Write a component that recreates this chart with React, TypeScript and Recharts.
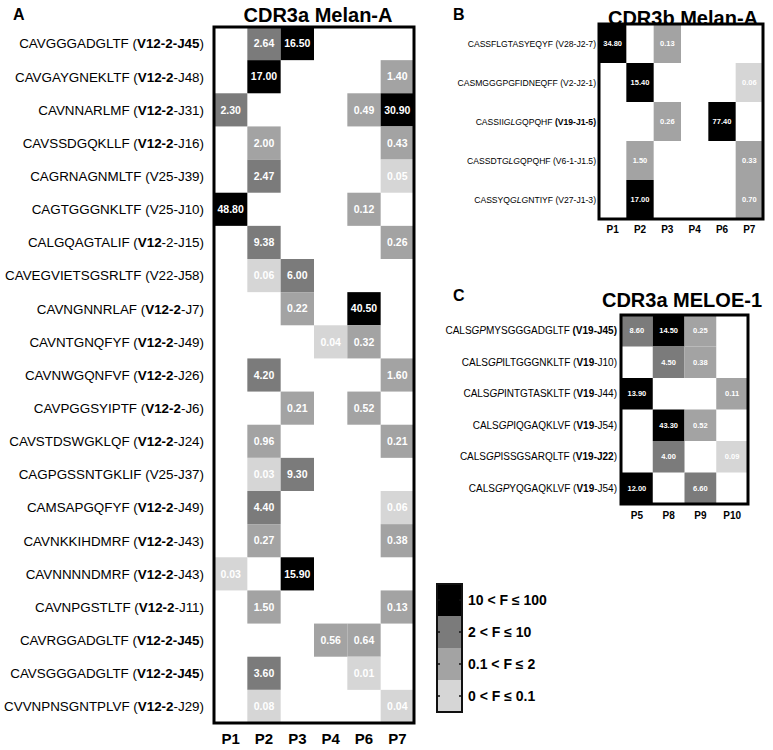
import React from 'react';
import { ScatterChart, Scatter, XAxis, YAxis } from 'recharts';

const FONT = '"Liberation Sans", Arial, Helvetica, sans-serif';

// ---------- Panel A: CDR3a Melan-A ----------
const aCols = ['P1', 'P2', 'P3', 'P4', 'P6', 'P7'];
const aLabels = [
  'CAVGGGADGLTF (**V12-2-J45**)',
  'CAVGAYGNEKLTF (**V12-2**-J48)',
  'CAVNNARLMF (**V12-2**-J31)',
  'CAVSSDGQKLLF (**V12-2**-J16)',
  'CAGRNAGNMLTF (V25-J39)',
  'CAGTGGGNKLTF (V25-J10)',
  'CALGQAGTALIF (**V12**-2-J15)',
  'CAVEGVIETSGSRLTF (V22-J58)',
  'CAVNGNNRLAF (**V12-2**-J7)',
  'CAVNTGNQFYF (**V12-2**-J49)',
  'CAVNWGQNFVF (**V12-2**-J26)',
  'CAVPGGSYIPTF (**V12-2**-J6)',
  'CAVSTDSWGKLQF (**V12-2**-J24)',
  'CAGPGSSNTGKLIF (V25-J37)',
  'CAMSAPGQFYF (**V12-2**-J49)',
  'CAVNKKIHDMRF (**V12-2**-J43)',
  'CAVNNNNDMRF (**V12-2**-J43)',
  'CAVNPGSTLTF (**V12-2**-J11)',
  'CAVRGGADGLTF (**V12-2-J45**)',
  'CAVSGGGADGLTF (**V12-2-J45**)',
  'CVVNPNSGNTPLVF (**V12-2**-J29)',
];
const aValues: (number | null)[][] = [
  [null, 2.64, 16.5, null, null, null],
  [null, 17.0, null, null, null, 1.4],
  [2.3, null, null, null, 0.49, 30.9],
  [null, 2.0, null, null, null, 0.43],
  [null, 2.47, null, null, null, 0.05],
  [48.8, null, null, null, 0.12, null],
  [null, 9.38, null, null, null, 0.26],
  [null, 0.06, 6.0, null, null, null],
  [null, null, 0.22, null, 40.5, null],
  [null, null, null, 0.04, 0.32, null],
  [null, 4.2, null, null, null, 1.6],
  [null, null, 0.21, null, 0.52, null],
  [null, 0.96, null, null, null, 0.21],
  [null, 0.03, 9.3, null, null, null],
  [null, 4.4, null, null, null, 0.06],
  [null, 0.27, null, null, null, 0.38],
  [0.03, null, 15.9, null, null, null],
  [null, 1.5, null, null, null, 0.13],
  [null, null, null, 0.56, 0.64, null],
  [null, 3.6, null, null, 0.01, null],
  [null, 0.08, null, null, null, 0.04],
];

// ---------- Panel B: CDR3b Melan-A ----------
const bCols = ['P1', 'P2', 'P3', 'P4', 'P6', 'P7'];
const bLabels = [
  'CASSFLGTASYEQYF (V28-J2-7)',
  'CASMGGGPGFIDNEQFF (V2-J2-1)',
  'CASSII_GLG_QPQHF **(V19-J1-5)**',
  'CASSDT_GLG_QPQHF (V6-1-J1.5)',
  'CASSYQ_GLG_NTIYF (V27-J1-3)',
];
const bValues: (number | null)[][] = [
  [34.8, null, 0.13, null, null, null],
  [null, 15.4, null, null, null, 0.06],
  [null, null, 0.26, null, 77.4, null],
  [null, 1.5, null, null, null, 0.33],
  [null, 17.0, null, null, null, 0.7],
];

// ---------- Panel C: CDR3a MELOE-1 ----------
const cCols = ['P5', 'P8', 'P9', 'P10'];
const cLabels = [
  'CALS_GP_MYSGGGADGLTF **(V19-J45)**',
  'CALS_GP_ILTGGGNKLTF (**V19**-J10)',
  'CALS_GP_INTGTASKLTF (**V19**-J44)',
  'CALS_GP_IQGAQKLVF (**V19**-J54)',
  'CALS_GP_ISSGSARQLTF (**V19-J22**)',
  'CALS_GP_YQGAQKLVF (**V19**-J54)',
];
const cValues: (number | null)[][] = [
  [8.6, 14.5, 0.25, null],
  [null, 4.5, 0.38, null],
  [13.9, null, null, 0.11],
  [null, 43.3, 0.52, null],
  [null, 4.0, null, 0.09],
  [12.0, null, 6.6, null],
];

// ---------- Legend ----------
const legendLabels = ['10 < F \u2264 100', '2 < F \u2264 10', '0.1 < F \u2264 2', '0 < F \u2264 0.1'];
const legendThresholds = [10, 2, 0.1, 0];
const legendColors = ['#000000', '#7b7b7b', '#a3a3a3', '#d6d6d6'];

function colorFor(v: number): string {
  for (let i = 0; i < legendThresholds.length; i++) {
    if (v > legendThresholds[i]) return legendColors[i];
  }
  return '#ffffff';
}

function parseLabel(s: string) {
  const parts = s.split(/(\*\*[^*]+\*\*|_[^_]+_)/).filter((p) => p.length > 0);
  return parts.map((p) => {
    if (p.startsWith('**')) return { t: p.slice(2, -2), b: true, i: false };
    if (p.startsWith('_')) return { t: p.slice(1, -1), b: false, i: true };
    return { t: p, b: false, i: false };
  });
}

function RowTick(props: any) {
  const { x, y, payload, labels, fontSize } = props;
  const label = labels[payload.value];
  if (label == null) return <g />;
  const segs = parseLabel(label);
  return (
    <text x={x} y={y} dy="0.36em" textAnchor="end" fontSize={fontSize} fontFamily={FONT} fill="#000">
      {segs.map((s, k) => (
        <tspan key={k} fontWeight={s.b ? 'bold' : 'normal'} fontStyle={s.i ? 'italic' : 'normal'}>
          {s.t}
        </tspan>
      ))}
    </text>
  );
}

type Box = {
  left: number;
  top: number;
  width: number;
  height: number;
  yW: number;
  mTop: number;
  mRight: number;
  xH: number;
};

function HeatPanel(props: {
  cols: string[];
  labels: string[];
  values: (number | null)[][];
  box: Box;
  labelFont: number;
  cellFont: number;
  axisFont: number;
  yMargin: number;
  xMargin: number;
}) {
  const { cols, labels, values, box, labelFont, cellFont, axisFont, yMargin, xMargin } = props;
  const { left, top, width, height, yW, mTop, mRight, xH } = box;
  const plotW = width - yW - mRight;
  const plotH = height - mTop - xH;
  const cw = plotW / cols.length;
  const ch = plotH / labels.length;
  const data: { x: number; y: number; v: number }[] = [];
  values.forEach((row, r) =>
    row.forEach((v, c) => {
      if (v != null) data.push({ x: c, y: r, v });
    })
  );
  const frame = [{ x: (cols.length - 1) / 2, y: (labels.length - 1) / 2 }];
  return (
    <div style={{ position: 'absolute', left, top }}>
      <ScatterChart width={width} height={height} margin={{ top: mTop, right: mRight, bottom: 0, left: 0 }}>
        <XAxis
          type="number"
          dataKey="x"
          domain={[-0.5, cols.length - 0.5]}
          ticks={cols.map((_, i) => i)}
          tickFormatter={(i: number) => cols[i]}
          interval={0}
          axisLine={false}
          tickLine={false}
          tickSize={0}
          tickMargin={xMargin}
          height={xH}
          tick={{ fontSize: axisFont, fontWeight: 'bold', fill: '#000', fontFamily: FONT }}
        />
        <YAxis
          type="number"
          dataKey="y"
          domain={[-0.5, labels.length - 0.5]}
          reversed
          ticks={labels.map((_, i) => i)}
          interval={0}
          axisLine={false}
          tickLine={false}
          tickSize={0}
          tickMargin={yMargin}
          width={yW}
          tick={(p: any) => <RowTick {...p} labels={labels} fontSize={labelFont} />}
        />
        <Scatter
          data={data}
          isAnimationActive={false}
          shape={(p: any) => {
            const v = p.payload.v as number;
            return (
              <g>
                <rect x={p.cx - cw / 2} y={p.cy - ch / 2} width={cw} height={ch} fill={colorFor(v)} />
                <text
                  x={p.cx}
                  y={p.cy}
                  dy="0.36em"
                  textAnchor="middle"
                  fontSize={cellFont}
                  fontWeight="bold"
                  fontFamily={FONT}
                  fill="#ffffff"
                >
                  {v.toFixed(2)}
                </text>
              </g>
            );
          }}
        />
        <Scatter
          data={frame}
          isAnimationActive={false}
          shape={(p: any) => (
            <rect
              x={p.cx - plotW / 2}
              y={p.cy - plotH / 2}
              width={plotW}
              height={plotH}
              fill="none"
              stroke="#000"
              strokeWidth={3}
            />
          )}
        />
      </ScatterChart>
    </div>
  );
}

function Title({ text, cx, cy, size }: { text: string; cx: number; cy: number; size: number }) {
  return (
    <div
      style={{
        position: 'absolute',
        left: cx - 150,
        top: cy - size * 0.6,
        width: 300,
        textAlign: 'center',
        fontFamily: FONT,
        fontWeight: 'bold',
        fontSize: size,
        lineHeight: `${size * 1.2}px`,
        whiteSpace: 'nowrap',
      }}
    >
      {text}
    </div>
  );
}

function Letter({ text, x, cy }: { text: string; x: number; cy: number }) {
  return (
    <div
      style={{
        position: 'absolute',
        left: x,
        top: cy - 10,
        fontFamily: FONT,
        fontWeight: 'bold',
        fontSize: 16,
        lineHeight: '20px',
      }}
    >
      {text}
    </div>
  );
}

function ScaleLegend() {
  const segH = 32;
  const bx = 7;
  const by = 9;
  const bw = 25;
  return (
    <svg width={220} height={150} style={{ position: 'absolute', left: 430, top: 575 }}>
      {legendColors.map((c, i) => (
        <rect key={i} x={bx} y={by + i * segH} width={bw} height={segH} fill={c} />
      ))}
      <rect x={bx} y={by} width={bw} height={segH * 4} fill="none" stroke="#111" strokeWidth={2} />
      {legendLabels.map((l, i) => (
        <g key={i}>
          <line x1={bx} x2={bx + 3} y1={by + (i + 0.5) * segH} y2={by + (i + 0.5) * segH} stroke="#111" strokeWidth={1.5} />
          <line x1={bx + bw - 3} x2={bx + bw} y1={by + (i + 0.5) * segH} y2={by + (i + 0.5) * segH} stroke="#111" strokeWidth={1.5} />
          <text
            x={bx + bw + 6}
            y={by + (i + 0.5) * segH}
            dy="0.36em"
            fontSize={14}
            fontWeight="bold"
            fontFamily={FONT}
            fill="#000"
          >
            {l}
          </text>
        </g>
      ))}
    </svg>
  );
}

export default function App() {
  return (
    <div style={{ position: 'absolute', left: 0, top: 0, width: 773, height: 750, background: '#fff', overflow: 'hidden' }}>
      <Letter text="A" x={13} cy={15} />
      <Title text="CDR3a Melan-A" cx={318} cy={15} size={20} />
      <HeatPanel
        cols={aCols}
        labels={aLabels}
        values={aValues}
        box={{ left: 0, top: 0, width: 420, height: 750, yW: 214, mTop: 27, mRight: 6, xH: 27 }}
        labelFont={13.4}
        cellFont={10.5}
        axisFont={15}
        yMargin={10}
        xMargin={10}
      />

      <Letter text="B" x={453} cy={15} />
      <Title text="CDR3b Melan-A" cx={683} cy={18} size={20} />
      <HeatPanel
        cols={bCols}
        labels={bLabels}
        values={bValues}
        box={{ left: 420, top: 0, width: 353, height: 240, yW: 179, mTop: 24, mRight: 10, xH: 21 }}
        labelFont={8.6}
        cellFont={7.5}
        axisFont={10}
        yMargin={3}
        xMargin={7}
      />

      <Letter text="C" x={453} cy={296} />
      <Title text="CDR3a MELOE-1" cx={682} cy={300} size={20} />
      <HeatPanel
        cols={cCols}
        labels={cLabels}
        values={cValues}
        box={{ left: 420, top: 290, width: 353, height: 235, yW: 201, mTop: 25, mRight: 25, xH: 21 }}
        labelFont={10}
        cellFont={7.5}
        axisFont={10}
        yMargin={4}
        xMargin={8}
      />

      <ScaleLegend />
    </div>
  );
}
